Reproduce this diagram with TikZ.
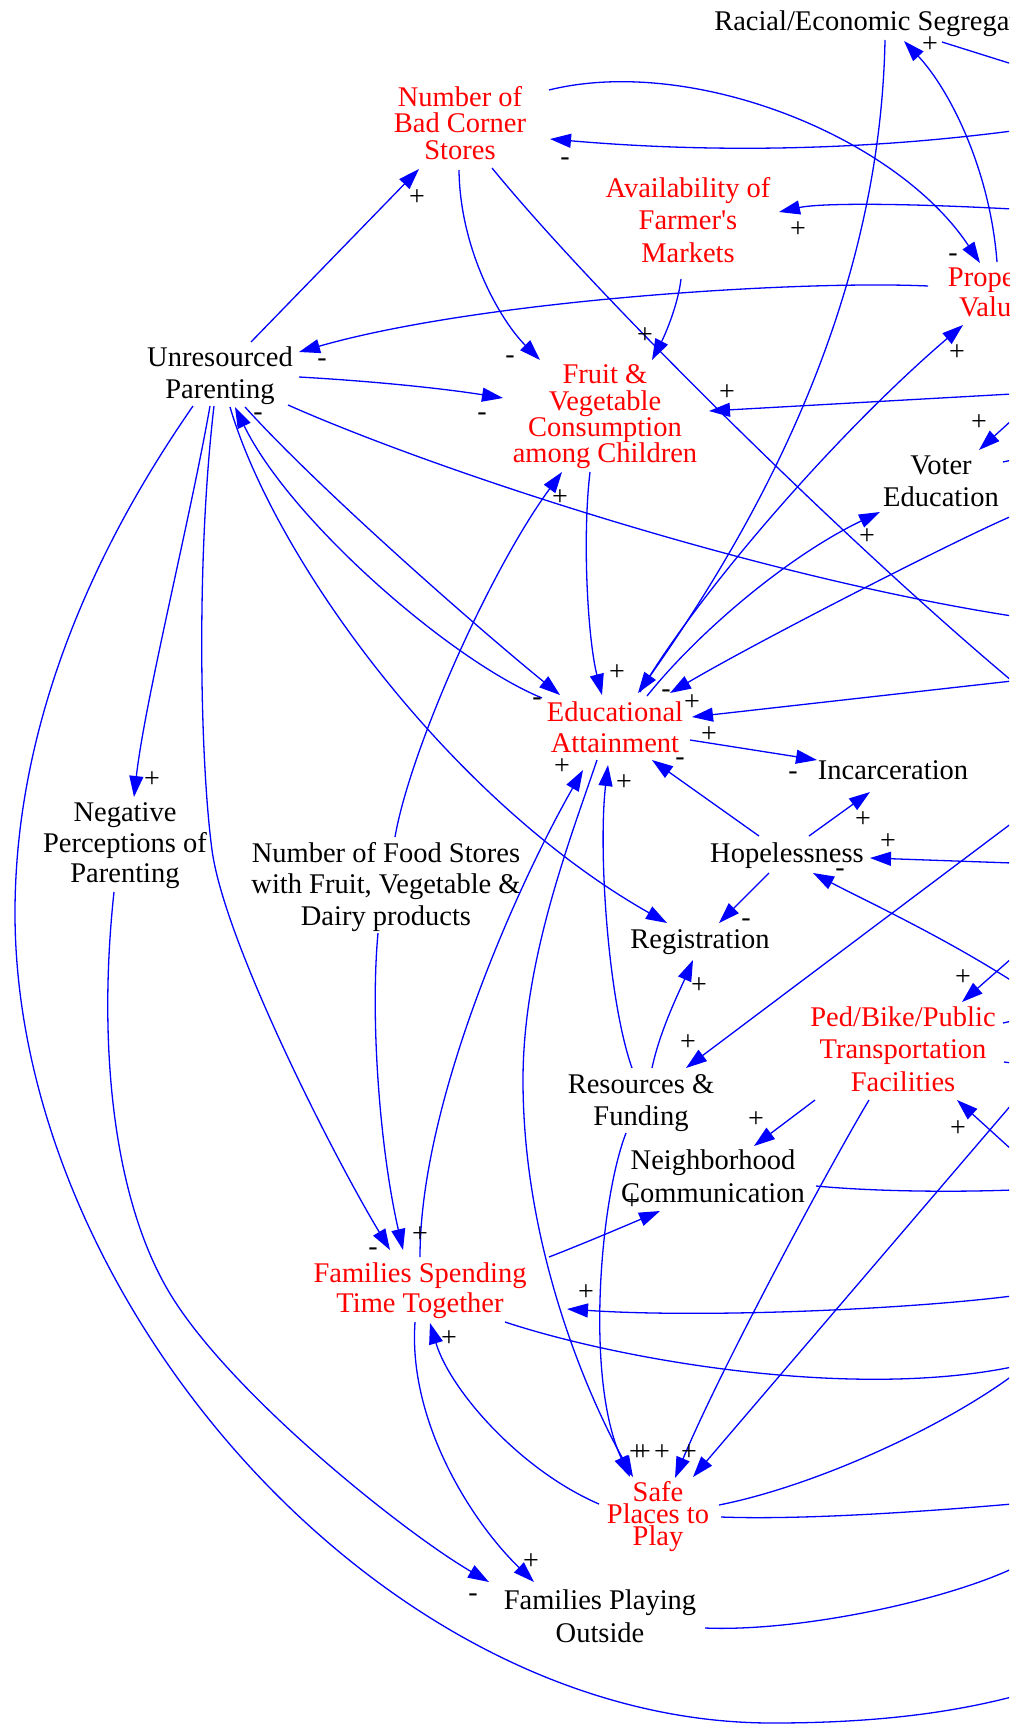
\documentclass[tikz,border=0pt]{standalone}
\usepackage{fontspec}
\setmainfont{Liberation Serif}
\usetikzlibrary{arrows.meta,calc}
\tikzset{
  blk/.style={font=\fontsize{28.5}{32}\selectfont, align=center, inner sep=0pt, text=black},
  redn/.style={blk, text=red},
  bs/.style={font=\fontsize{28.5}{#1}\selectfont},
  arr/.style={draw=blue, line width=1.3pt, -{Triangle[length=21pt,width=14pt]}},
  ln/.style={draw=blue, line width=1.3pt},
  sgn/.style={font=\fontsize{28}{28}\selectfont, inner sep=0pt, text=black},
}
\begin{document}
\begin{tikzpicture}[x=1pt,y=-1pt]
\fill[white] (0,0) rectangle (1009,1726);
\clip (0,0) rectangle (1009,1726);
% ---------- nodes ----------
\node[blk] (rac) at (884,24) {Racial/Economic Segregation};
\node[redn, bs=26.5] (bad) at (460,123) {Number of\\Bad Corner\\Stores};
\node[redn, bs=32.5] (farm) at (688,220) {Availability of\\Farmer\textquotesingle s\\Markets};
\node[redn, bs=30] (prop) at (997,292) {Property\\Values};
\node[blk, bs=32] (unr) at (220,376) {Unresourced\\Parenting};
\node[redn, bs=26.3] (fruit) at (605,417) {Fruit \&\\Vegetable\\Consumption\\among Children};
\node[blk, bs=32] (voter) at (941,481) {Voter\\Education};
\node[redn, bs=31] (edu) at (615,727) {Educational\\Attainment};
\node[blk] (inc) at (893,770) {Incarceration};
\node[blk] (hope) at (787,856) {Hopelessness};
\node[blk] (reg) at (700,942) {Registration};
\node[redn, bs=32.5] (ped) at (903,1049) {Ped/Bike/Public\\Transportation\\Facilities};
\node[blk, bs=32] (res) at (641,1103) {Resources \&\\Funding};
\node[blk, bs=33] (neigh) at (713,1176) {Neighborhood\\Communication};
\node[redn, bs=30] (fam) at (420,1291) {Families Spending\\Time Together};
\node[redn, bs=22] (safe) at (658,1517) {Safe\\Places to\\Play};
\node[blk, bs=33] (play) at (600,1616) {Families Playing\\Outside};
\node[blk, bs=30.5] (neg) at (125,846) {Negative\\Perceptions of\\Parenting};
\node[blk, bs=31.5] (food) at (386,887) {Number of Food Stores\\with Fruit, Vegetable \&\\Dairy products};
% ---------- off-picture ends ----------
\coordinate (oBad) at (1012,131);
\coordinate (oFarm) at (1012,209);
\coordinate (oRac) at (1012,64);
\coordinate (oLong) at (1012,681);
\coordinate (oEdu) at (1012,516);
\coordinate (oFruit) at (1012,394);
\coordinate (oVin) at (1012,420);
\coordinate (oVout) at (1012,460);
\coordinate (oUnr) at (1012,616);
\coordinate (oRes) at (1012,823);
\coordinate (oHopeA) at (1012,863);
\coordinate (oHopeB) at (1012,981);
\coordinate (oPedA) at (1012,958);
\coordinate (oPedS1) at (1012,1021);
\coordinate (oPedS2) at (1012,1063);
\coordinate (oPedB) at (1012,1150);
\coordinate (oSafeIn) at (1012,1104);
\coordinate (oNeigh) at (1012,1190);
\coordinate (oFamIn) at (1012,1296);
\coordinate (oFamOut) at (1012,1367);
\coordinate (oSafeA) at (1030,1362);
\coordinate (oSafeB) at (1012,1504);
\coordinate (oPlay) at (1020,1565);
\coordinate (oArc) at (1030,1692);
% ---------- edges ----------
\draw[arr] ($(unr)+(31,-34)$) -- ($(bad)+(-41,46)$);
\draw[arr] ($(bad)+(89,-33)$) .. controls (690,55) and (895,135) .. ($(prop)+(-17,-29)$);
\draw[arr] (oBad) .. controls (850,152) and (700,152) .. ($(bad)+(90,16)$);
\draw[arr] (oFarm) .. controls (900,203) and (820,203) .. ($(farm)+(91,-8)$);
\draw[arr] ($(prop)+(0,-30)$) .. controls (990,170) and (950,90) .. ($(rac)+(20,17)$);
\draw[ln] ($(rac)+(58,18)$) -- (oRac);
\draw[arr] ($(rac)+(1,16)$) .. controls (880,300) and (760,520) .. ($(edu)+(23,-34)$);
\draw[arr] ($(edu)+(25,-35)$) .. controls (700,590) and (840,430) .. ($(prop)+(-34,33)$);
\draw[arr] ($(prop)+(-69,-6)$) .. controls (800,280) and (480,300) .. ($(unr)+(79,-24)$);
\draw[arr] ($(bad)+(-1,47)$) .. controls (460,250) and (500,320) .. ($(fruit)+(-65,-57)$);
\draw[arr] ($(unr)+(79,1)$) .. controls (370,381) and (440,388) .. ($(fruit)+(-102,-19)$);
\draw[arr] ($(farm)+(-7,59)$) .. controls (678,305) and (665,335) .. ($(fruit)+(47,-57)$);
\draw[ln] ($(bad)+(32,45)$) .. controls (600,300) and (850,545) .. (oLong);
\draw[arr] (oFruit) -- ($(fruit)+(104,-6)$);
\draw[arr] (oVin) -- ($(voter)+(38,-31)$);
\draw[ln] ($(voter)+(62,-19)$) -- (oVout);
\draw[arr] ($(edu)+(32,-31)$) .. controls (700,630) and (790,555) .. ($(voter)+(-61,31)$);
\draw[arr] (oEdu) .. controls (960,538) and (760,640) .. ($(edu)+(55,-34)$);
\draw[arr] (oLong) -- ($(edu)+(77,-10)$);
\draw[arr] ($(unr)+(25,31)$) .. controls (320,490) and (480,630) .. ($(edu)+(-55,-32)$);
\draw[arr] ($(edu)+(-73,-29)$) .. controls (450,660) and (290,520) .. ($(unr)+(15,31)$);
\draw[arr] ($(unr)+(10,31)$) .. controls (275,560) and (450,800) .. ($(reg)+(-33,-19)$);
\draw[arr] ($(unr)+(-10,30)$) .. controls (190,520) and (145,700) .. ($(neg)+(9,-49)$);
\draw[arr] ($(unr)+(-6,30)$) .. controls (196,560) and (200,760) .. (212,850)
   .. controls (224,940) and (330,1150) .. ($(fam)+(-30,-41)$);
\draw[ln] ($(unr)+(-27,30)$) .. controls (135,490) and (15,680) .. (15,913)
   .. controls (15,1300) and (380,1723) .. (772,1723)
   .. controls (880,1723) and (960,1712) .. (oArc);
\draw[arr] ($(neg)+(-11,46)$) .. controls (98,1040) and (112,1190) .. (165,1285)
   .. controls (220,1385) and (400,1530) .. ($(play)+(-111,-34)$);
\draw[arr] ($(fam)+(-5,31)$) .. controls (408,1420) and (470,1520) .. ($(play)+(-66,-34)$);
\draw[arr] ($(safe)+(-59,-13)$) .. controls (520,1470) and (450,1390) .. ($(fam)+(10,32)$);
\draw[arr] ($(edu)+(-18,33)$) .. controls (570,840) and (523,960) .. (523,1080)
   .. controls (523,1250) and (590,1400) .. ($(safe)+(-25,-40)$);
\draw[arr] ($(res)+(-15,30)$) .. controls (600,1200) and (585,1380) .. ($(safe)+(-28,-40)$);
\draw[arr] ($(ped)+(-34,51)$) .. controls (830,1165) and (720,1370) .. ($(safe)+(17,-39)$);
\draw[arr] (oSafeIn) -- ($(safe)+(35,-40)$);
\draw[ln] ($(safe)+(61,-12)$) .. controls (820,1485) and (960,1420) .. (oSafeA);
\draw[ln] ($(safe)+(63,0)$) .. controls (800,1520) and (920,1512) .. (oSafeB);
\draw[ln] ($(play)+(105,12)$) .. controls (800,1632) and (950,1600) .. (oPlay);
\draw[ln] ($(fam)+(85,31)$) .. controls (620,1360) and (850,1400) .. (oFamOut);
\draw[arr] (oFamIn) .. controls (900,1310) and (700,1318) .. ($(fam)+(147,18)$);
\draw[arr] ($(fam)+(129,-34)$) .. controls (585,1243) and (625,1226) .. ($(neigh)+(-53,35)$);
\draw[arr] ($(ped)+(-88,51)$) -- ($(neigh)+(41,-30)$);
\draw[ln] ($(neigh)+(103,10)$) .. controls (880,1192) and (960,1192) .. (oNeigh);
\draw[arr] (oPedA) -- ($(ped)+(59,-47)$);
\draw[ln] ($(ped)+(100,-26)$) -- (oPedS1);
\draw[ln] ($(ped)+(101,13)$) -- (oPedS2);
\draw[arr] (oPedB) -- ($(ped)+(54,51)$);
\draw[arr] (oRes) -- ($(res)+(45,-35)$);
\draw[arr] ($(res)+(11,-35)$) .. controls (660,1030) and (680,990) .. ($(reg)+(-7,18)$);
\draw[arr] ($(res)+(-9,-35)$) .. controls (608,1000) and (598,850) .. ($(edu)+(-7,38)$);
\draw[arr] ($(hope)+(-18,17)$) -- ($(reg)+(19,-19)$);
\draw[arr] ($(hope)+(-28,-20)$) -- ($(edu)+(37,33)$);
\draw[arr] ($(hope)+(22,-20)$) -- ($(inc)+(-23,22)$);
\draw[arr] (oHopeA) -- ($(hope)+(83,2)$);
\draw[arr] (oHopeB) .. controls (940,935) and (860,898) .. ($(hope)+(26,17)$);
\draw[arr] ($(edu)+(75,13)$) -- ($(inc)+(-76,-10)$);
\draw[arr] ($(fruit)+(-15,55)$) .. controls (582,540) and (588,640) .. ($(edu)+(-13,-32)$);
\draw[arr] ($(food)+(9,-50)$) .. controls (410,750) and (490,570) .. ($(fruit)+(-43,55)$);
\draw[arr] ($(food)+(-8,46)$) .. controls (370,1020) and (380,1150) .. ($(fam)+(-17,-41)$);
\draw[arr] ($(fam)+(0,-34)$) .. controls (420,1100) and (520,880) .. ($(edu)+(-32,43)$);
\draw[ln] ($(unr)+(68,29)$) .. controls (430,468) and (750,575) .. (oUnr);
% ---------- polarity signs ----------
\node[sgn] (s1) at (417,198) {+};
\node[sgn] (s2) at (565,162) {-};
\node[sgn] (s3) at (798,230) {+};
\node[sgn] (s4) at (953,258) {-};
\node[sgn] (s5) at (930,45) {+};
\node[sgn] (s6) at (957,353) {+};
\node[sgn] (s7) at (510,360) {-};
\node[sgn] (s8) at (645,336) {+};
\node[sgn] (s9) at (482,417) {-};
\node[sgn] (s10) at (727,393) {+};
\node[sgn] (s11) at (560,498) {+};
\node[sgn] (s12) at (322,363) {-};
\node[sgn] (s13) at (258,417) {-};
\node[sgn] (s14) at (979,423) {+};
\node[sgn] (s15) at (867,537) {+};
\node[sgn] (s16) at (617,673) {+};
\node[sgn] (s17) at (666,694) {-};
\node[sgn] (s18) at (692,703) {+};
\node[sgn] (s19) at (709,735) {+};
\node[sgn] (s20) at (537,702) {-};
\node[sgn] (s21) at (562,767) {+};
\node[sgn] (s22) at (624,783) {+};
\node[sgn] (s23) at (680,762) {-};
\node[sgn] (s24) at (793,776) {-};
\node[sgn] (s25) at (863,820) {+};
\node[sgn] (s26) at (888,842) {+};
\node[sgn] (s27) at (840,873) {-};
\node[sgn] (s28) at (746,923) {-};
\node[sgn] (s29) at (699,986) {+};
\node[sgn] (s30) at (688,1043) {+};
\node[sgn] (s31) at (963,978) {+};
\node[sgn] (s32) at (958,1129) {+};
\node[sgn] (s33) at (756,1120) {+};
\node[sgn] (s34) at (632,1202) {+};
\node[sgn] (s35) at (373,1252) {-};
\node[sgn] (s36) at (420,1235) {+};
\node[sgn] (s37) at (586,1293) {+};
\node[sgn] (s38) at (449,1339) {+};
\node[sgn] (s39) at (637,1453) {+};
\node[sgn] (s40) at (643,1453) {+};
\node[sgn] (s41) at (662,1453) {+};
\node[sgn] (s42) at (689,1453) {+};
\node[sgn] (s43) at (531,1562) {+};
\node[sgn] (s44) at (473,1598) {-};
\node[sgn] (s45) at (152,780) {+};
\end{tikzpicture}
\end{document}
